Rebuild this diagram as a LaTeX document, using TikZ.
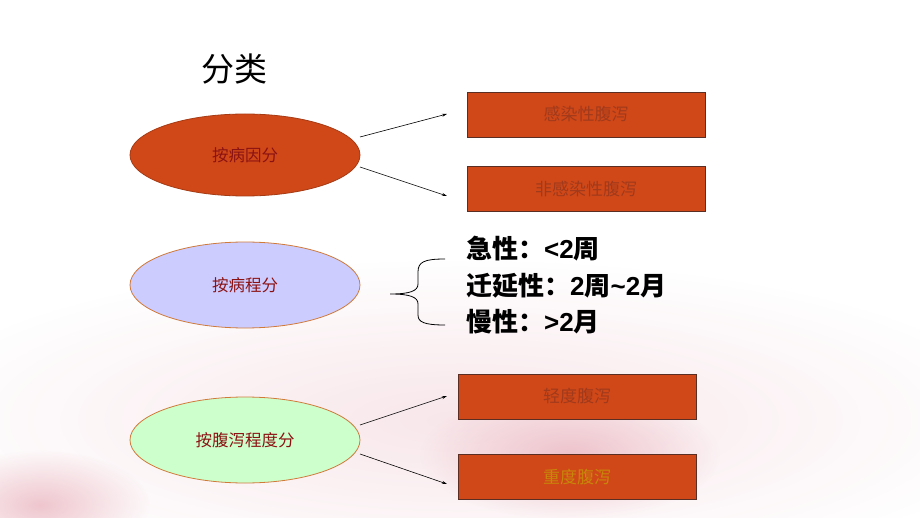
\documentclass[tikz,border=0pt]{standalone}
\usepackage{fontspec}
\setmainfont{Liberation Sans}
\newfontfamily\cjk{Noto Sans CJK SC}
\usetikzlibrary{shapes.geometric,arrows.meta,fadings}
\definecolor{boxfill}{HTML}{D04818}
\definecolor{boxline}{HTML}{5A2E22}
\definecolor{boxtext}{HTML}{A03A1C}
\definecolor{elltext}{HTML}{8B1212}
\definecolor{ellline}{HTML}{D07A3A}
\definecolor{lav}{HTML}{CCCCFF}
\definecolor{mint}{HTML}{CCFFCC}
\definecolor{gold}{HTML}{C8860A}
\definecolor{bgpink}{HTML}{EBB8C2}
\tikzfading[name=softspot, inner color=transparent!0, outer color=transparent!100]
\begin{document}
\begin{tikzpicture}[x=1pt,y=-1pt,
  ell/.style={ellipse,draw=ellline,line width=0.8pt,minimum width=230pt,minimum height=82pt,inner sep=0pt,
     font=\cjk\fontsize{16.5}{19}\selectfont,text=elltext},
  rbox/.style={rectangle,draw=boxline,line width=0.9pt,fill=boxfill,minimum width=238pt,minimum height=45pt,inner sep=0pt,
     font=\cjk\fontsize{17}{20}\selectfont,text=boxtext},
  arr/.style={-{Stealth[length=5pt,width=3pt]},line width=0.6pt,black},
  big/.style={anchor=west,inner sep=0pt,font=\fontsize{26}{30}\selectfont\bfseries},
  spot/.style={fill=bgpink,path fading=softspot}]
\useasboundingbox (0,0) rectangle (920,518);
\fill[white] (0,0) rectangle (920,518);
\fill[spot,fill opacity=0.35] (460,420) ellipse (560 and 160);
\fill[spot,fill opacity=0.8] (570,455) ellipse (150 and 65);
\fill[spot,fill opacity=0.8] (40,505) ellipse (110 and 55);

\node[font=\cjk\fontsize{33}{37}\selectfont] (title) at (234,69) {分类};

\node[ell,fill=boxfill,draw=boxfill!80!black] (e1) at (245,155) {按病因分};
\node[ell,fill=lav,minimum height=86pt] (e2) at (245,285) {按病程分};
\node[ell,fill=mint,minimum height=86pt] (e3) at (245,440) {按腹泻程度分};

\node[rbox] (b1) at (586,114.5) {感染性腹泻};
\node[rbox] (b2) at (586,189) {非感染性腹泻};
\node[rbox] (b3) at (577,396.5) {轻度腹泻};
\node[rbox,text=gold] (b4) at (577,477) {重度腹泻};

\coordinate (s1) at (360,137); \coordinate (t1) at (447,114);
\coordinate (s2) at (360,167); \coordinate (t2) at (447,196);
\coordinate (s3) at (360,425); \coordinate (t3) at (447,396);
\coordinate (s4) at (360,454); \coordinate (t4) at (447,484);
\draw[arr] (s1) -- (t1);
\draw[arr] (s2) -- (t2);
\draw[arr] (s3) -- (t3);
\draw[arr] (s4) -- (t4);

\coordinate (bt) at (445,259);
\coordinate (bm) at (390,294);
\coordinate (bb) at (445,325);
\draw[line width=0.8pt] (bt) .. controls (424,259) and (418,262) .. (418,272) -- (418,284)
  .. controls (418,291) and (410,294) .. (bm)
  .. controls (410,294) and (418,297) .. (418,304) -- (418,315)
  .. controls (418,322) and (424,325) .. (bb);

\node[big] (l1) at (466,249) {{\cjk 急性：}<2{\cjk 周}};
\node[big] (l2) at (466,286) {{\cjk 迁延性：}2{\cjk 周}\char`~2{\cjk 月}};
\node[big] (l3) at (466,322) {{\cjk 慢性：}>2{\cjk 月}};
\end{tikzpicture}
\end{document}
